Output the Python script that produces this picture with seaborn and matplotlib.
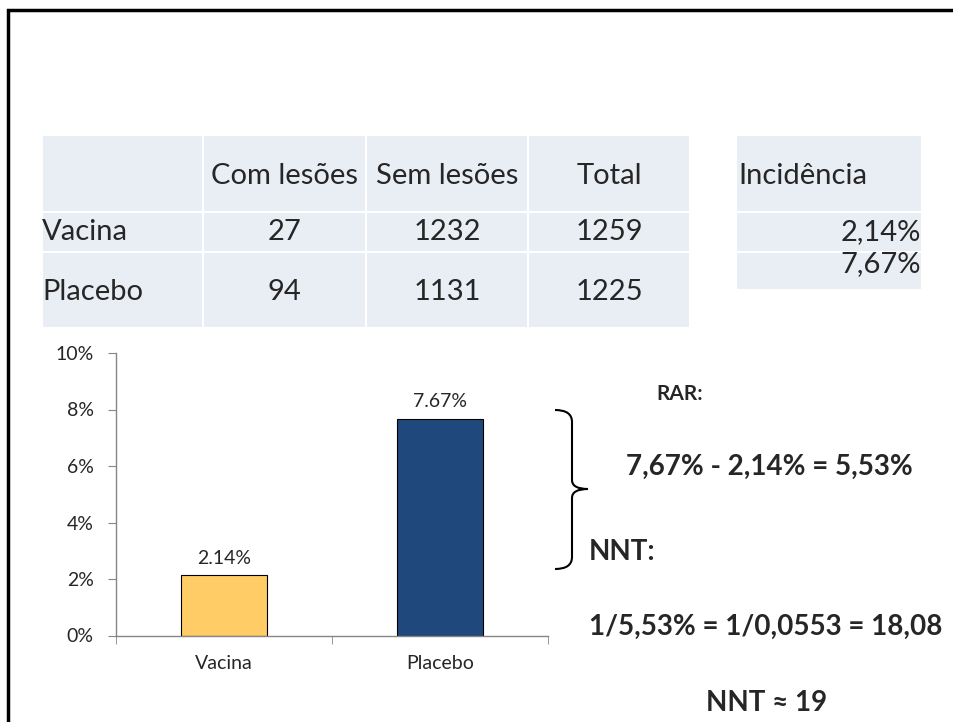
import matplotlib
matplotlib.use("Agg")
import matplotlib.pyplot as plt
import seaborn as sns
import pandas as pd
from matplotlib.patches import Rectangle, PathPatch
from matplotlib.path import Path
from matplotlib.ticker import PercentFormatter

# ---------------- data ----------------
groups = ["Vacina", "Placebo"]
com_lesoes = [27, 94]
sem_lesoes = [1232, 1131]
totals = [1259, 1225]
incidencia_txt = ["2,14%", "7,67%"]
incidencia = [0.0214, 0.0767]
bar_colors = ["#FFCC66", "#1F497D"]

col_headers = ["Com lesões", "Sem lesões", "Total"]

sns.set_style("white")
plt.rcParams['font.family'] = ['Lato', 'DejaVu Sans']

W, H = 954, 722
fig = plt.figure(figsize=(W / 100, H / 100), dpi=100)


def fx(x):
    return x / W


def fy(y):
    return 1 - y / H


# slide border (right and bottom edges fall outside the picture)
fig.patches.append(Rectangle((fx(8), fy(740)), fx(980) - fx(8), fy(10) - fy(740),
                             transform=fig.transFigure, fill=False,
                             edgecolor="black", linewidth=2.5))

# ---------------- table ----------------
cell_fill = "#E9EDF4"
col_edges = [42, 203, 366, 528, 690]
row_edges = [135, 212, 252, 328]

for i in range(len(row_edges) - 1):
    for j in range(len(col_edges) - 1):
        x0, x1 = col_edges[j], col_edges[j + 1]
        y0, y1 = row_edges[i], row_edges[i + 1]
        fig.patches.append(Rectangle((fx(x0), fy(y1)), fx(x1) - fx(x0), fy(y0) - fy(y1),
                                     transform=fig.transFigure, facecolor=cell_fill,
                                     edgecolor="white", linewidth=1.5))

# incidence table
inc_rows = [135, 212, 252, 290]
for i in range(len(inc_rows) - 1):
    y0, y1 = inc_rows[i], inc_rows[i + 1]
    fig.patches.append(Rectangle((fx(736), fy(y1)), fx(922) - fx(736), fy(y0) - fy(y1),
                                 transform=fig.transFigure, facecolor=cell_fill,
                                 edgecolor="white", linewidth=1.5))

tsize = 21
col_centers = [(col_edges[k] + col_edges[k + 1]) / 2 for k in range(1, 4)]
for k, h in enumerate(col_headers):
    fig.text(fx(col_centers[k]), fy(176), h, ha="center", va="center", fontsize=tsize)
fig.text(fx(738), fy(176), "Incidência", ha="left", va="center", fontsize=tsize)

row_y = [232, 292]
for r, g in enumerate(groups):
    fig.text(fx(42), fy(row_y[r]), g, ha="left", va="center", fontsize=tsize)
    vals = [com_lesoes[r], sem_lesoes[r], totals[r]]
    for k, v in enumerate(vals):
        fig.text(fx(col_centers[k]), fy(row_y[r]), str(v), ha="center", va="center",
                 fontsize=tsize)

inc_y = [232, 264]
for r, t in enumerate(incidencia_txt):
    fig.text(fx(921), fy(inc_y[r]), t, ha="right", va="center", fontsize=tsize)

# ---------------- bar chart ----------------
ax = fig.add_axes([fx(116), fy(635.5), fx(548) - fx(116), fy(353) - fy(635.5)])
df = pd.DataFrame({"grupo": groups, "incidencia": incidencia})
sns.barplot(data=df, x="grupo", y="incidencia", hue="grupo", palette=bar_colors,
            saturation=1, width=0.4, edgecolor="black", linewidth=0.8, legend=False, ax=ax)

ax.set_ylim(0, 0.10)
ax.set_xlim(-0.5, 1.5)
ax.set_yticks([0, 0.02, 0.04, 0.06, 0.08, 0.10])
ax.yaxis.set_major_formatter(PercentFormatter(1.0, decimals=0))
ax.set_xlabel("")
ax.set_ylabel("")
ax.set_xticks([-0.5, 0.5, 1.5], minor=True)
ax.tick_params(axis="x", which="major", length=0, pad=14, labelsize=14)
ax.tick_params(axis="x", which="minor", length=6, color="#868686", direction="out", bottom=True)
ax.tick_params(axis="y", length=6, color="#868686", direction="out", left=True, pad=10,
               labelsize=14)
for s in ["top", "right"]:
    ax.spines[s].set_visible(False)
for s in ["left", "bottom"]:
    ax.spines[s].set_color("#868686")
    ax.spines[s].set_linewidth(1)

for p, v in zip(ax.patches, incidencia):
    ax.annotate("{:.2f}%".format(v * 100), (p.get_x() + p.get_width() / 2, v),
                xytext=(0, 6), textcoords="offset points", ha="center", va="bottom",
                fontsize=14)

# ---------------- bracket and RAR / NNT text ----------------
pts = [(555, 410), (572, 410), (572, 422), (572, 480), (572, 489), (588, 489),
       (572, 489), (572, 498), (572, 557), (572, 569), (555, 569)]
codes = [Path.MOVETO, Path.CURVE3, Path.CURVE3, Path.LINETO, Path.CURVE3, Path.CURVE3,
         Path.CURVE3, Path.CURVE3, Path.LINETO, Path.CURVE3, Path.CURVE3]
bracket = Path([(fx(x), fy(y)) for x, y in pts], codes)
fig.patches.append(PathPatch(bracket, transform=fig.transFigure, fill=False,
                             edgecolor="black", linewidth=1.5))

fig.text(fx(656), fy(394), "RAR:", ha="left", va="center", fontsize=15, fontweight="bold")
fig.text(fx(626), fy(467), "7,67% - 2,14% = 5,53%", ha="left", va="center", fontsize=20,
         fontweight="bold")
fig.text(fx(589), fy(552), "NNT:", ha="left", va="center", fontsize=20, fontweight="bold")
fig.text(fx(589), fy(627), "1/5,53% = 1/0,0553 = 18,08", ha="left", va="center",
         fontsize=20, fontweight="bold")
fig.text(fx(767), fy(703), "NNT ≈ 19", ha="center", va="center", fontsize=20,
         fontweight="bold")

fig.savefig("out.png", dpi=100)
